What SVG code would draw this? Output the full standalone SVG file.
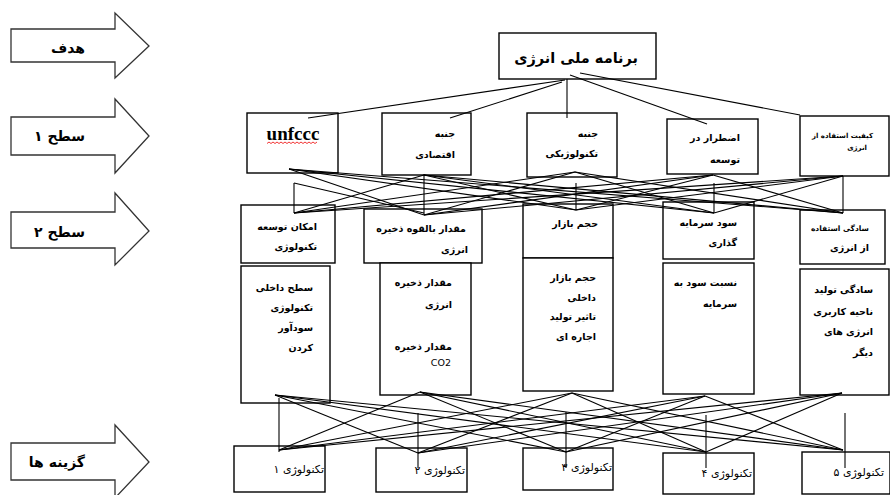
<svg xmlns="http://www.w3.org/2000/svg" width="890" height="495" viewBox="0 0 890 495">
<style>
.bg{fill:#fff}
.arrow{fill:#fff;stroke:#333;stroke-width:1.3}
.box{fill:#fff;stroke:#000;stroke-width:1.4}
.con line{stroke:#000;stroke-width:1.1}
.t{font-family:"DejaVu Sans",sans-serif;font-weight:bold;font-size:9.5px;text-anchor:end;fill:#000}
.s{font-size:7px}
.o{font-family:"DejaVu Sans",sans-serif;font-size:11px;text-anchor:end;fill:#000}
.al{font-family:"DejaVu Sans",sans-serif;font-weight:bold;font-size:14px;text-anchor:end;fill:#000}
</style>
<rect class="bg" x="0" y="0" width="890" height="495"/>

<g id="arrow-goal"><polygon class="arrow" points="11,29 115,29 115,13 149,46 115,78 115,62 11,62"/><text class="al" x="85" y="53">هدف</text></g>
<g id="arrow-level1"><polygon class="arrow" points="11,117 115,117 115,99 149,136 115,173 115,155 11,155"/><text class="al" x="85" y="141">سطح ۱</text></g>
<g id="arrow-level2"><polygon class="arrow" points="11,212 115,212 115,193 149,231 115,265 115,248 11,248"/><text class="al" x="85" y="237">سطح ۲</text></g>
<g id="arrow-options"><polygon class="arrow" points="11,443 115,443 115,425 149,462 115,498 115,480 11,480"/><text class="al" x="85" y="467">گزینه ها</text></g>

<g id="goal"><rect class="box" x="499" y="33" width="157" height="46"/><text class="t" x="638" y="63" style="font-size:14.5px">برنامه ملی انرژی</text></g>

<g id="l1-unfccc"><rect class="box" x="247" y="113" width="91" height="60"/><text x="293" y="140" style="font-family:'Liberation Serif',serif;font-weight:bold;font-size:19px;text-anchor:middle">unfccc</text><path d="M267,143.5 l2,-1.5 2,1.5 2,-1.5 2,1.5 2,-1.5 2,1.5 2,-1.5 2,1.5 2,-1.5 2,1.5 2,-1.5 2,1.5 2,-1.5 2,1.5 2,-1.5 2,1.5 2,-1.5 2,1.5 2,-1.5 2,1.5 2,-1.5 2,1.5 2,-1.5 2,1.5 2,-1.5" fill="none" stroke="#e00" stroke-width="0.8"/></g>
<g id="l1-economic"><rect class="box" x="382" y="113" width="89" height="62"/><text class="t" x="455" y="137">جنبه</text><text class="t" x="455" y="158">اقتصادی</text></g>
<g id="l1-technological"><rect class="box" x="527" y="113" width="90" height="64"/><text class="t" x="598" y="137">جنبه</text><text class="t" x="598" y="157">تکنولوژیکی</text></g>
<g id="l1-urgency"><rect class="box" x="667" y="119" width="91" height="55"/><text class="t" x="740" y="141">اضطرار در</text><text class="t" x="740" y="163">توسعه</text></g>
<g id="l1-quality"><rect class="box" x="800" y="116" width="89" height="60"/><text class="t s" x="873" y="138">کیفیت استفاده از</text><text class="t s" x="867" y="150">انرژی</text></g>

<g id="l2-possibility"><rect class="box" x="241" y="205" width="94" height="58"/><text class="t" x="317" y="230">امکان توسعه</text><text class="t" x="317" y="250">تکنولوژی</text></g>
<g id="l2-potential"><rect class="box" x="364" y="209" width="118" height="54"/><text class="t" x="466" y="232">مقدار بالقوه ذخیره</text><text class="t" x="468" y="253">انرژی</text></g>
<g id="l2-market"><rect class="box" x="523" y="204" width="90" height="54"/><text class="t" x="598" y="227">حجم بازار</text></g>
<g id="l2-profit"><rect class="box" x="663" y="202" width="91" height="57"/><text class="t" x="737" y="226">سود سرمایه</text><text class="t" x="737" y="246">گذاری</text></g>
<g id="l2-ease"><rect class="box" x="800" y="210" width="85" height="54"/><text class="t" x="869" y="231" style="font-size:7.5px">سادگی استفاده</text><text class="t" x="869" y="251">از انرژی</text></g>

<g id="l3-a"><rect class="box" x="241" y="266" width="89" height="137"/><text class="t" x="313" y="291">سطح داخلی</text><text class="t" x="313" y="311">تکنولوژی</text><text class="t" x="313" y="331">سودآور</text><text class="t" x="313" y="351">کردن</text></g>
<g id="l3-b"><rect class="box" x="380" y="263" width="91" height="132"/><text class="t" x="452" y="286">مقدار ذخیره</text><text class="t" x="452" y="308">انرژی</text><text class="t" x="452" y="350">مقدار ذخیره</text><text class="t" x="451" y="366" style="font-weight:normal">CO2</text></g>
<g id="l3-c"><rect class="box" x="523" y="258" width="90" height="133"/><text class="t" x="596" y="281">حجم بازار</text><text class="t" x="596" y="301">داخلی</text><text class="t" x="596" y="320">تاثیر تولید</text><text class="t" x="596" y="340">اجاره ای</text></g>
<g id="l3-d"><rect class="box" x="663" y="263" width="91" height="131"/><text class="t" x="737" y="286">نسبت سود به</text><text class="t" x="737" y="307">سرمایه</text></g>
<g id="l3-e"><rect class="box" x="800" y="269" width="89" height="126"/><text class="t" x="873" y="293">سادگی تولید</text><text class="t" x="873" y="315">ناحیه کاربری</text><text class="t" x="873" y="335">انرژی های</text><text class="t" x="873" y="356">دیگر</text></g>

<g id="opt1"><rect class="box" x="234" y="446" width="91" height="46"/><text class="o" x="324" y="473">تکنولوژی ۱</text></g>
<g id="opt2"><rect class="box" x="376" y="448" width="91" height="44"/><text class="o" x="465" y="474">تکنولوژی ۲</text></g>
<g id="opt3"><rect class="box" x="523" y="448" width="90" height="42"/><text class="o" x="612" y="471">تکنولوژی ۳</text></g>
<g id="opt4"><rect class="box" x="663" y="453" width="91" height="41"/><text class="o" x="752" y="477">تکنولوژی ۴</text></g>
<g id="opt5"><rect class="box" x="802" y="452" width="88" height="42"/><text class="o" x="884" y="476">تکنولوژی ۵</text></g>

<g id="connectors" class="con">
<line x1="565" y1="80" x2="308" y2="118"/>
<line x1="562" y1="82" x2="450" y2="118"/>
<line x1="567" y1="79" x2="567" y2="118"/>
<line x1="570" y1="75" x2="707" y2="124"/>
<line x1="580" y1="73" x2="800" y2="115"/>

<line x1="289" y1="169" x2="424" y2="215"/>
<line x1="289" y1="169" x2="576" y2="210"/>
<line x1="289" y1="169" x2="714" y2="213"/>
<line x1="289" y1="169" x2="843" y2="213"/>
<line x1="424" y1="175" x2="294" y2="213"/>
<line x1="424" y1="175" x2="576" y2="210"/>
<line x1="424" y1="175" x2="714" y2="213"/>
<line x1="424" y1="175" x2="843" y2="213"/>
<line x1="575" y1="172" x2="294" y2="213"/>
<line x1="575" y1="172" x2="424" y2="215"/>
<line x1="575" y1="172" x2="714" y2="213"/>
<line x1="575" y1="172" x2="843" y2="213"/>
<line x1="713" y1="175" x2="294" y2="213"/>
<line x1="713" y1="175" x2="424" y2="215"/>
<line x1="713" y1="175" x2="576" y2="210"/>
<line x1="713" y1="175" x2="843" y2="213"/>
<line x1="843" y1="176" x2="294" y2="213"/>
<line x1="843" y1="176" x2="424" y2="215"/>
<line x1="843" y1="176" x2="576" y2="210"/>
<line x1="843" y1="176" x2="714" y2="213"/>
<line x1="294" y1="183" x2="424" y2="213"/>
<line x1="294" y1="183" x2="294" y2="213"/>
<line x1="424" y1="174" x2="424" y2="215"/>
<line x1="576" y1="183" x2="576" y2="210"/>
<line x1="714" y1="183" x2="714" y2="213"/>
<line x1="843" y1="176" x2="843" y2="213"/>

<line x1="275" y1="395" x2="418" y2="453"/>
<line x1="275" y1="395" x2="566" y2="452"/>
<line x1="275" y1="395" x2="706" y2="452"/>
<line x1="275" y1="395" x2="843" y2="450"/>
<line x1="420" y1="392" x2="279" y2="450"/>
<line x1="420" y1="392" x2="566" y2="452"/>
<line x1="420" y1="392" x2="706" y2="452"/>
<line x1="420" y1="392" x2="843" y2="450"/>
<line x1="572" y1="393" x2="279" y2="450"/>
<line x1="572" y1="393" x2="418" y2="453"/>
<line x1="572" y1="393" x2="706" y2="452"/>
<line x1="572" y1="393" x2="843" y2="450"/>
<line x1="705" y1="396" x2="279" y2="450"/>
<line x1="705" y1="396" x2="418" y2="453"/>
<line x1="705" y1="396" x2="566" y2="452"/>
<line x1="705" y1="396" x2="843" y2="450"/>
<line x1="842" y1="393" x2="279" y2="450"/>
<line x1="842" y1="393" x2="418" y2="453"/>
<line x1="842" y1="393" x2="566" y2="452"/>
<line x1="842" y1="393" x2="706" y2="452"/>
<line x1="279" y1="398" x2="279" y2="452"/>
<line x1="418" y1="413" x2="418" y2="468"/>
<line x1="566" y1="412" x2="566" y2="468"/>
<line x1="706" y1="415" x2="706" y2="468"/>
<line x1="845" y1="413" x2="845" y2="468"/>
</g>
</svg>
